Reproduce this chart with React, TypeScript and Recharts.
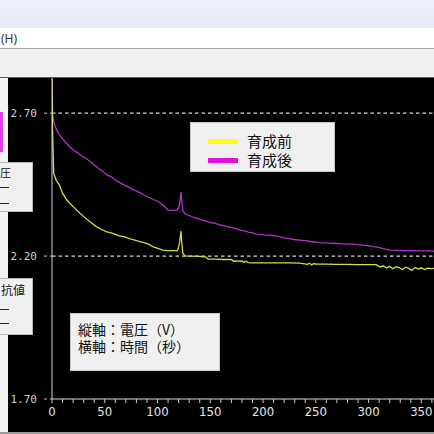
import { CartesianGrid, Line, LineChart, ReferenceLine, XAxis, YAxis } from "recharts";

// 育成前 (before conditioning): time in seconds / voltage in volts
const beforeTimes = [
  0, 0.5, 1.6, 4, 7, 10, 14, 17, 20, 25,
  30, 36, 42, 47, 52, 56, 60, 64, 68, 72,
  76, 80, 84, 88, 92, 96, 101, 105, 110, 115,
  119, 120.5, 121.5, 122.3, 123, 124, 126, 132, 140, 146,
  148, 155, 162, 170, 172, 180, 182, 184, 186, 190,
  200, 210, 220, 226, 235, 242, 244, 246, 248, 250,
  252, 260, 270, 280, 290, 300, 307, 311, 314, 317,
  320, 323, 326, 329, 332, 335, 338, 341, 344, 347,
  350, 353, 356, 359, 362,
];
const beforeVolts = [
  2.82, 2.64, 2.489, 2.465, 2.449, 2.42, 2.396, 2.385, 2.373, 2.355,
  2.338, 2.32, 2.303, 2.293, 2.285, 2.281, 2.276, 2.271, 2.268, 2.263,
  2.258, 2.254, 2.25, 2.246, 2.241, 2.232, 2.226, 2.221, 2.219, 2.219,
  2.219, 2.24, 2.265, 2.287, 2.245, 2.21, 2.201, 2.2, 2.199, 2.196,
  2.189, 2.189, 2.188, 2.188, 2.182, 2.183, 2.178, 2.182, 2.177, 2.176,
  2.176, 2.176, 2.176, 2.176, 2.175, 2.171, 2.175, 2.169, 2.174, 2.172,
  2.172, 2.172, 2.171, 2.171, 2.17, 2.17, 2.17, 2.162, 2.166, 2.158,
  2.164, 2.156, 2.163, 2.16, 2.152, 2.161, 2.157, 2.15, 2.16, 2.155,
  2.159, 2.153, 2.158, 2.156, 2.157,
];

// 育成後 (after conditioning)
const afterTimes = [
  0, 0.7, 2, 4, 7, 10, 13, 16, 20, 24,
  28, 32, 36, 40, 44, 48, 52, 56, 60, 64,
  68, 72, 76, 80, 84, 88, 92, 96, 100, 103,
  106, 108, 110, 114, 119, 120.5, 121.5, 122.3, 123, 124,
  126, 130, 134, 138, 142, 146, 150, 154, 158, 162,
  166, 170, 174, 178, 182, 186, 190, 194, 197, 201,
  205, 209, 213, 217, 221, 225, 229, 234, 240, 245,
  250, 254, 258, 264, 270, 275, 280, 285, 289, 295,
  300, 305, 308, 311, 314, 316, 318, 321, 328, 335,
  342, 350, 356, 362,
];
const afterVolts = [
  2.82, 2.69, 2.665, 2.645, 2.624, 2.61, 2.598, 2.586, 2.571, 2.562,
  2.55, 2.543, 2.531, 2.519, 2.507, 2.497, 2.484, 2.478, 2.466, 2.458,
  2.449, 2.443, 2.433, 2.428, 2.42, 2.412, 2.405, 2.398, 2.392, 2.384,
  2.376, 2.368, 2.361, 2.36, 2.361, 2.375, 2.4, 2.424, 2.39, 2.36,
  2.347, 2.342, 2.335, 2.331, 2.326, 2.322, 2.317, 2.315, 2.31, 2.307,
  2.303, 2.3, 2.296, 2.292, 2.288, 2.284, 2.281, 2.277, 2.276, 2.274,
  2.273, 2.272, 2.27, 2.266, 2.263, 2.261, 2.258, 2.256, 2.254, 2.251,
  2.249, 2.247, 2.246, 2.245, 2.244, 2.243, 2.242, 2.242, 2.24, 2.238,
  2.236, 2.233, 2.231, 2.229, 2.226, 2.224, 2.223, 2.221, 2.22, 2.219,
  2.219, 2.218, 2.218, 2.217,
];

const seriesNames = ["育成前", "育成後"];
const timeTicks = [0, 10, 20, 30, 40, 50, 60, 70, 80, 90, 100, 110, 120, 130, 140, 150, 160, 170, 180, 190, 200, 210, 220, 230, 240, 250, 260, 270, 280, 290, 300, 310, 320, 330, 340, 350, 360];
const voltTicks = [1.7, 2.2, 2.7];
const gridVolts = [2.2, 2.7];
const axisNotes = ["縦軸：電圧（V）", "横軸：時間（秒）"];

const toPoints = (ts: number[], vs: number[]) =>
  ts.slice(0, Math.min(ts.length, vs.length)).map((t, i) => ({ t, v: vs[i] }));

const beforeData = toPoints(beforeTimes, beforeVolts);
const afterData = toPoints(afterTimes, afterVolts);

const JP = "'Noto Sans CJK JP', 'Noto Sans', sans-serif";

export default function App() {
  return (
    <div
      style={{
        position: "fixed",
        left: 0,
        top: 0,
        width: 434,
        height: 434,
        overflow: "hidden",
        background: "#f2f2f2",
        fontFamily: JP,
      }}
    >
      {/* window chrome */}
      <div style={{ position: "absolute", left: 0, top: 0, width: 434, height: 28, background: "linear-gradient(#eef2fb, #e5ebf7)" }} />
      <div style={{ position: "absolute", left: 0, top: 28, width: 434, height: 20, background: "#ffffff" }}>
        <span style={{ position: "absolute", left: 1, top: 2, fontSize: 12, color: "#333", fontFamily: "'Noto Sans', sans-serif" }}>(H)</span>
      </div>
      <div style={{ position: "absolute", left: 0, top: 48, width: 434, height: 1, background: "#a8a8a8" }} />
      <div style={{ position: "absolute", left: 0, top: 49, width: 434, height: 28, background: "#f0f0f0" }} />
      <div style={{ position: "absolute", left: 0, top: 77, width: 434, height: 1, background: "#5a5a5a" }} />

      {/* plot panel */}
      <div style={{ position: "absolute", left: 8, top: 78, width: 426, height: 356, background: "#000" }}>
        <LineChart width={426} height={356} margin={{ top: 0, right: 0, bottom: 0, left: 0 }}>
          <CartesianGrid stroke="none" />
          <XAxis
            type="number"
            dataKey="t"
            domain={[0, 362]}
            ticks={timeTicks}
            allowDataOverflow
            interval={0}
            height={35}
            stroke="#d0e2c8"
            tickSize={4}
            tickMargin={4}
            tickLine={{ stroke: "#cfcfcf" }}
            tick={{ fill: "#e6e6e6", fontSize: 13, fontFamily: "'Liberation Sans Narrow', 'DejaVu Sans Condensed', 'DejaVu Sans Mono', monospace" }}
            tickFormatter={(v: number) => (v % 50 === 0 ? String(v) : "")}
          />
          <YAxis
            type="number"
            domain={[1.7, 2.823]}
            ticks={voltTicks}
            allowDataOverflow
            width={44}
            stroke="#d4d4d4"
            tickSize={8}
            tickMargin={7}
            tickLine={{ stroke: "#cfcfcf", strokeDasharray: "3 3" }}
            tick={{ fill: "#cfcfcf", fontSize: 11, fontFamily: "'DejaVu Sans Mono', monospace" }}
            tickFormatter={(v: number) => v.toFixed(2)}
          />
          {gridVolts.map((g) => (
            <ReferenceLine key={g} y={g} stroke="#d6d6d6" strokeWidth={1.4} strokeDasharray="3.5 3" />
          ))}
          <Line
            data={afterData}
            dataKey="v"
            name={seriesNames[1]}
            type="linear"
            stroke="#b232cc"
            strokeWidth={1.3}
            dot={false}
            isAnimationActive={false}
          />
          <Line
            data={beforeData}
            dataKey="v"
            name={seriesNames[0]}
            type="linear"
            stroke="#d6dc44"
            strokeWidth={1.3}
            dot={false}
            isAnimationActive={false}
          />
        </LineChart>
      </div>
      <div style={{ position: "absolute", left: 0, top: 432, width: 434, height: 2, background: "#9a9a9a" }} />

      {/* legend */}
      <div
        style={{
          position: "absolute",
          left: 190,
          top: 122,
          width: 145,
          height: 50,
          background: "#f0f0f0",
          border: "1px solid #c8c8c8",
          boxSizing: "border-box",
        }}
      >
        {seriesNames.map((n, i) => (
          <div key={n} style={{ position: "absolute", left: 17, top: 9 + i * 19, height: 18, display: "flex", alignItems: "center" }}>
            <span style={{ width: 30, height: 5, background: i === 0 ? "#ffff10" : "#e010e0", marginRight: 9 }} />
            <span style={{ fontSize: 15, lineHeight: "18px", color: "#111" }}>{n}</span>
          </div>
        ))}
      </div>

      {/* axis note */}
      <div
        style={{
          position: "absolute",
          left: 70,
          top: 313,
          width: 150,
          height: 58,
          background: "#f0f0f0",
          border: "1px solid #c8c8c8",
          boxSizing: "border-box",
          paddingLeft: 7,
          paddingTop: 7,
          fontSize: 14,
          lineHeight: "17px",
          color: "#111",
          whiteSpace: "pre",
        }}
      >
        {axisNotes.join("\n")}
      </div>

      {/* side panels at the window edge */}
      <div style={{ position: "absolute", left: 0, top: 112, width: 3, height: 40, background: "#e040e0" }} />
      <div style={{ position: "absolute", left: 0, top: 162, width: 33, height: 50, background: "#f0f0f0", border: "1px solid #b8b8b8", borderLeft: "none", boxSizing: "border-box", overflow: "hidden" }}>
        <span style={{ position: "absolute", left: 0, top: 2, fontSize: 11, lineHeight: "14px", color: "#111", whiteSpace: "nowrap" }}>圧</span>
        <span style={{ position: "absolute", left: 0, top: 24, width: 9, height: 1, background: "#222" }} />
        <span style={{ position: "absolute", left: 0, top: 40, width: 9, height: 1, background: "#222" }} />
      </div>
      <div style={{ position: "absolute", left: 0, top: 278, width: 33, height: 57, background: "#f0f0f0", border: "1px solid #b8b8b8", borderLeft: "none", boxSizing: "border-box", overflow: "hidden" }}>
        <span style={{ position: "absolute", left: 1, top: 4, fontSize: 12, lineHeight: "14px", color: "#111", whiteSpace: "nowrap" }}>抗値</span>
        <span style={{ position: "absolute", left: 0, top: 30, width: 9, height: 1, background: "#222" }} />
        <span style={{ position: "absolute", left: 0, top: 44, width: 9, height: 1, background: "#222" }} />
      </div>
    </div>
  );
}
